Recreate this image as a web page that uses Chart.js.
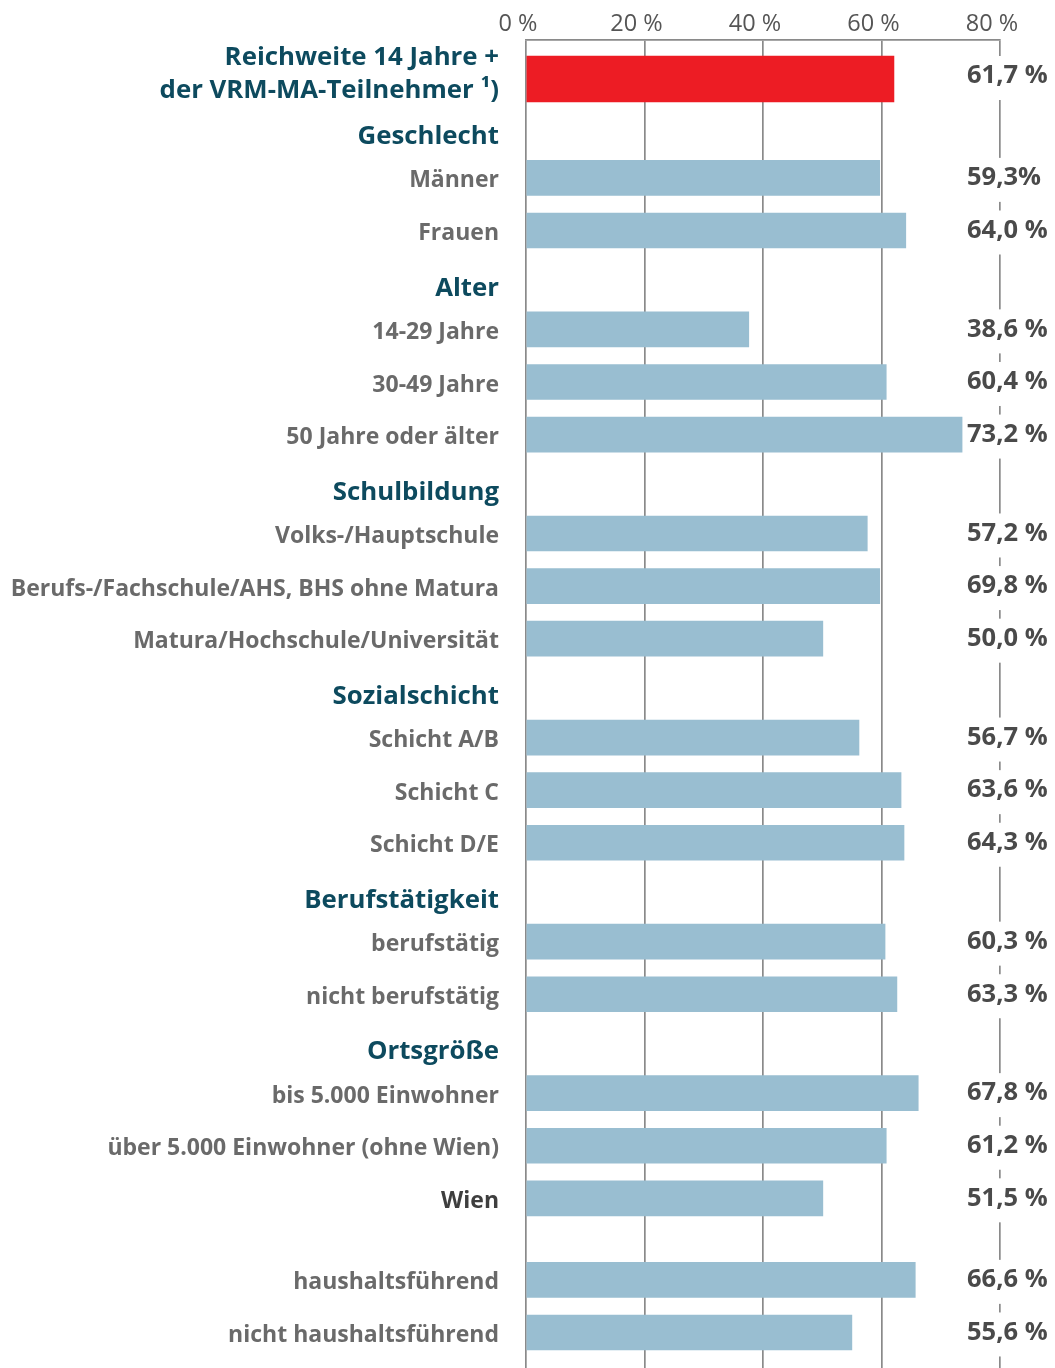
<!DOCTYPE html>
<html>
<head>
<meta charset="utf-8">
<script src="https://cdn.jsdelivr.net/npm/chart.js@4"></script>
<style>
  html, body { margin: 0; padding: 0; background: #ffffff; }
  #wrap { width: 1055px; height: 1368px; position: relative; }
</style>
</head>
<body>
<div id="wrap"><canvas id="c" width="1055" height="1368"></canvas></div>
<script>
// ---------- data ----------
const titleLines = ["Reichweite 14 Jahre +", "der VRM-MA-Teilnehmer \u00B9)"];
const groups = ["", "Geschlecht", "Alter", "Schulbildung", "Sozialschicht", "Berufstätigkeit", "Ortsgröße", ""];
const groupSizes = [1, 2, 3, 3, 3, 2, 3, 2];
const categories = [
  "Reichweite 14 Jahre + der VRM-MA-Teilnehmer",
  "Männer", "Frauen",
  "14-29 Jahre", "30-49 Jahre", "50 Jahre oder älter",
  "Volks-/Hauptschule", "Berufs-/Fachschule/AHS, BHS ohne Matura", "Matura/Hochschule/Universität",
  "Schicht A/B", "Schicht C", "Schicht D/E",
  "berufstätig", "nicht berufstätig",
  "bis 5.000 Einwohner", "über 5.000 Einwohner (ohne Wien)", "Wien",
  "haushaltsführend", "nicht haushaltsführend"
];
// bar lengths as drawn in the picture (%)
const values = [
  62.1,
  59.7, 64.1,
  37.6, 60.8, 73.6,
  57.6, 59.7, 50.1,
  56.2, 63.3, 63.8,
  60.6, 62.6,
  66.2, 60.8, 50.1,
  65.7, 55.0
];
// value labels as printed
const valueLabels = [
  "61,7 %",
  "59,3%", "64,0 %",
  "38,6 %", "60,4 %", "73,2 %",
  "57,2 %", "69,8 %", "50,0 %",
  "56,7 %", "63,6 %", "64,3 %",
  "60,3 %", "63,3 %",
  "67,8 %", "61,2 %", "51,5 %",
  "66,6 %", "55,6 %"
];
const xTicks = [0, 20, 40, 60, 80];
const xTickLabels = ["0 %", "20 %", "40 %", "60 %", "80 %"];

// ---------- layout (row units) ----------
const GAP_BAR = 1.0, GAP_TO_HEADER = 1.1, GAP_FROM_HEADER = 0.78, GAP_BLANK = 1.55;
const barPos = [], headerPos = [];
(function () {
  let p = 0, idx = 0;
  groups.forEach((g, gi) => {
    for (let k = 0; k < groupSizes[gi]; k++) {
      if (idx === 0) { p = 0; }
      else if (k === 0) {
        if (g) { headerPos.push({ text: g, pos: p + GAP_TO_HEADER }); p = p + GAP_TO_HEADER + GAP_FROM_HEADER; }
        else { p = p + GAP_BLANK; }
      } else { p = p + GAP_BAR; }
      barPos.push(p);
      idx++;
    }
  });
})();
const UNIT = 52.6, AREA_TOP = 40, AREA_H = 1328, FIRST_BAR_PX = 79;
const yMin = -(FIRST_BAR_PX - AREA_TOP) / UNIT;
const yMax = yMin + AREA_H / UNIT;

const RED = "#ED1C24", BLUE = "#99BED1";
const HEAD_COLOR = "#0D4A5E", CAT_COLOR = "#6A6A6A", DARK_CAT = "#3E3E3E", VAL_COLOR = "#4A4A4A", GRID = "#8A8A8A";
const FONT = "'Open Sans', 'Noto Sans', sans-serif";
const darkCats = new Set(["Wien"]);

const labelPlugin = {
  id: "labels",
  afterDatasetsDraw(chart) {
    const ctx = chart.ctx, y = chart.scales.y, x = chart.scales.x;
    const xLab = 499;
    ctx.save();
    // headers
    ctx.textAlign = "right"; ctx.textBaseline = "middle";
    ctx.fillStyle = HEAD_COLOR;
    ctx.font = "700 25.8px " + FONT;
    headerPos.forEach(h => ctx.fillText(h.text, xLab, y.getPixelForValue(h.pos)));
    // title (first row)
    const c0 = y.getPixelForValue(barPos[0]);
    ctx.fillText(titleLines[0], xLab, c0 - 21);
    ctx.fillText(titleLines[1], xLab, c0 + 12);
    // category labels
    ctx.font = "700 23px " + FONT;
    categories.forEach((c, i) => {
      if (i === 0) return;
      ctx.fillStyle = darkCats.has(c) ? DARK_CAT : CAT_COLOR;
      ctx.fillText(c, xLab, y.getPixelForValue(barPos[i]) + 3);
    });
    // value labels with white backdrop interrupting the 80% line
    const xLine = x.getPixelForValue(80);
    ctx.textAlign = "left";
    ctx.font = "700 25.5px " + FONT;
    valueLabels.forEach((t, i) => {
      const cy = y.getPixelForValue(barPos[i]) - (i === 0 ? 3 : 0);
      ctx.fillStyle = "#ffffff";
      ctx.fillRect(xLine - 5, cy - 20, 10, 44);
      ctx.fillStyle = VAL_COLOR;
      ctx.fillText(t, 967, cy);
    });
    ctx.restore();
  }
};

new Chart(document.getElementById("c"), {
  type: "bar",
  data: {
    datasets: [
      {
        data: [{ x: values[0], y: barPos[0] }],
        backgroundColor: RED, barThickness: 46, grouped: false
      },
      {
        data: values.slice(1).map((v, i) => ({ x: v, y: barPos[i + 1] })),
        backgroundColor: BLUE, barThickness: 35, grouped: false
      }
    ]
  },
  options: {
    indexAxis: "y",
    responsive: false,
    animation: false,
    events: [],
    layout: { padding: { left: 526, right: 55, top: 0, bottom: 0 } },
    plugins: { legend: { display: false }, tooltip: { enabled: false } },
    scales: {
      x: {
        type: "linear", position: "top", min: 0, max: 80,
        afterBuildTicks: s => { s.ticks = xTicks.map(v => ({ value: v })); },
        afterFit: s => { s.height = 40; },
        grid: { color: GRID, lineWidth: 1.7, drawTicks: false },
        border: { display: true, color: GRID, width: 1.7 },
        ticks: {
          padding: 2, labelOffset: -8, maxRotation: 0,
          color: "#555555", font: { family: FONT, size: 23.5 },
          callback: (v) => xTickLabels[xTicks.indexOf(v)]
        }
      },
      y: {
        type: "linear", reverse: true, min: yMin, max: yMax, display: false,
        offset: false, grace: 0, bounds: "data"
      }
    }
  },
  plugins: [labelPlugin]
});
</script>
</body>
</html>
